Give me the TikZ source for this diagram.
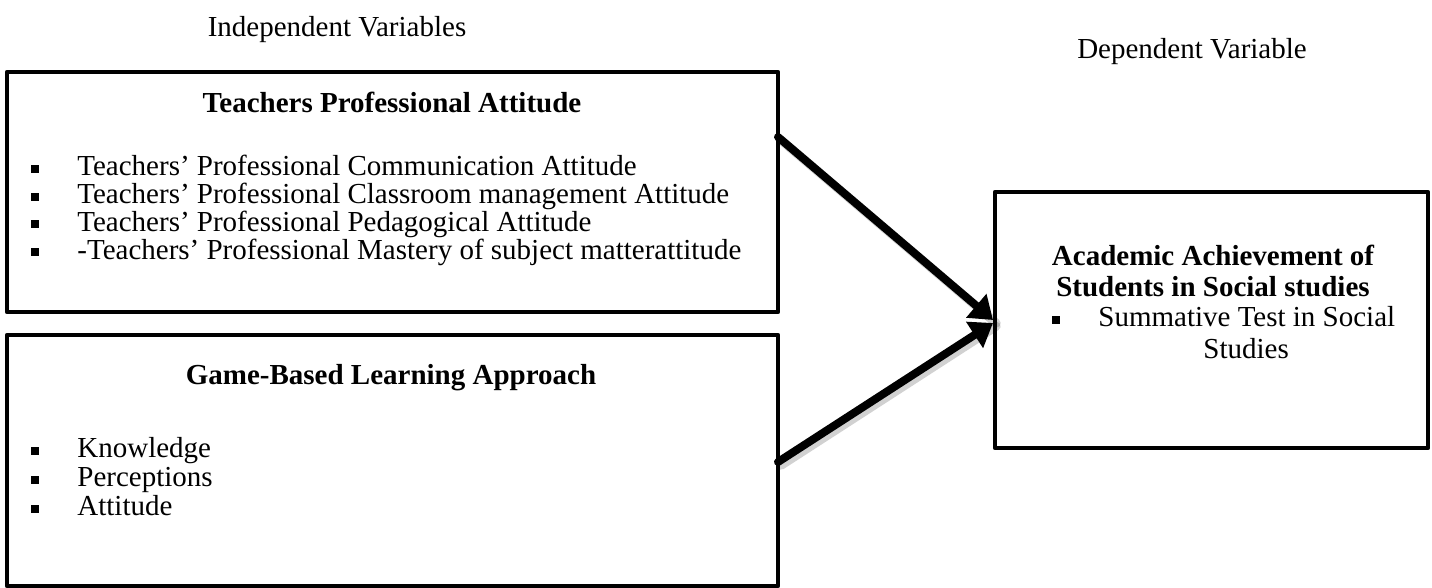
\documentclass[tikz,border=0pt]{standalone}
\usepackage{fontspec}
\setmainfont{Liberation Serif}
\usepackage{tkz-euclide}
\usetikzlibrary{arrows.meta,calc}

\newcommand\txtsize{\fontsize{14.5pt}{13.8pt}\selectfont}
\tikzset{
  head/.style={font=\txtsize\bfseries,inner sep=0pt},
  item/.style={anchor=west,inner sep=0pt,text height=10pt,text depth=3pt},
  sqbul/.style={fill=black,minimum size=4pt,inner sep=0pt},
  caption/.style={inner sep=0pt},
}

\begin{document}
\begin{tikzpicture}[x=0.5pt,y=-0.5pt,font=\txtsize]
\useasboundingbox (0,0) rectangle (1432,588);
\tkzSetUpLine[line width=2.2pt,color=black]

% corners of the three boxes
\tkzDefPoints{7/72/A,778/72/B,778/312/C,7/312/D}
\tkzDefPoints{7/335/E,778/335/F,778/586/G,7/586/H}
\tkzDefPoints{995/192/K,1428/192/L,1428/448/M,995/448/N}

% ends of the two arrows
\tkzDefPoints{778/137/P,778/462/Q,993/320/R,993/323/S}

\tkzDrawPolygon[line width=2.2pt](A,B,C,D)
\tkzDrawPolygon[line width=2.2pt](E,F,G,H)
\tkzDrawPolygon[line width=2.2pt](K,L,M,N)

% soft shadow under the arrows
\tkzDrawSegments[line width=4.5pt,color=black,opacity=0.18,
  transform canvas={shift={(1.6pt,-1.6pt)}}](P,R Q,S)
\tkzDrawSegments[line width=4pt,-{Triangle[length=11pt,width=15pt]}](P,R Q,S)

\node[caption] (indep) at (337,30) {Independent Variables};
\node[caption] (dep) at (1192,52) {Dependent Variable};

% first box
\node[head] (tpa) at (392,102) {Teachers Professional Attitude};
\foreach \txt [count=\i] in {Teachers’ Professional Communication Attitude,
  Teachers’ Professional Classroom management Attitude,
  Teachers’ Professional Pedagogical Attitude,
  -Teachers’ Professional Mastery of subject matterattitude}{
  \node[sqbul] (b1-\i) at (35,{141.3+27.7*\i}) {};
  \node[item] (t1-\i) at (77,{141.3+27.7*\i}) {\txt};
}

% second box
\node[head] (gbl) at (391,378) {Game-Based Learning Approach};
\foreach \txt [count=\i] in {Knowledge,Perceptions,Attitude}{
  \node[sqbul] (b2-\i) at (35,{422+29*\i}) {};
  \node[item] (t2-\i) at (77,{422+29*\i}) {\txt};
}

% dependent box
\node[head] (aas1) at (1213,255) {Academic Achievement of};
\node[head] (aas2) at (1213,287) {Students in Social studies};
\node[sqbul] (b3) at (1056,320) {};
\node[item] (st1) at (1098,320) {Summative Test in Social};
\node[item] (st2) at (1203,352) {Studies};

\end{tikzpicture}
\end{document}
